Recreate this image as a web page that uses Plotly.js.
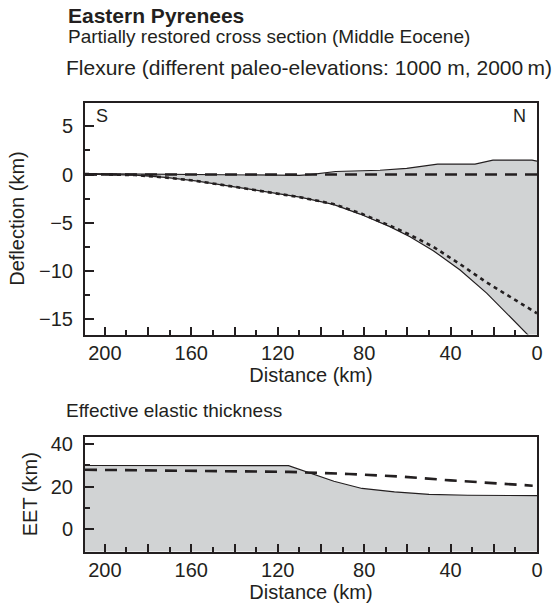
<!DOCTYPE html>
<html>
<head>
<meta charset="utf-8">
<script src="https://cdn.plot.ly/plotly-3.0.1.min.js"></script>
<style>html,body{margin:0;padding:0;background:#fff;}#chart{width:559px;height:608px;}</style>
</head>
<body>
<div id="chart"></div>
<script>
// ---- Data ----
// Flexure panel
const distTopo = [209.2, 180, 150, 118, 110, 105, 93.2, 72.7, 60.3, 46, 28.7, 20.4, 2.3, 0];
const topo     = [0.1, 0.05, 0, -0.05, -0.08, 0, 0.32, 0.45, 0.65, 1.08, 1.08, 1.5, 1.5, 1.4];

const distDefl   = [209.2, 186, 172, 158, 140, 123, 109.7, 94.3, 81.9, 68.1, 58.8, 48, 35.6, 23.3, 11, 4.8, 0];
const deflSolid  = [0.05, -0.05, -0.3, -0.65, -1.27, -1.9, -2.35, -3.1, -4.1, -5.4, -6.45, -7.9, -9.9, -12.3, -15.1, -16.5, -17.6];

const distDot    = [209.2, 186, 172, 158, 140, 123, 109.7, 94.3, 81.9, 68.1, 58.8, 48, 35.6, 23.3, 11, 0];
const deflDotted = [0.05, -0.05, -0.3, -0.65, -1.27, -1.9, -2.35, -3.05, -4.0, -5.3, -6.25, -7.5, -9.3, -11.2, -12.9, -14.4];

const distZero = [209.2, 0];
const zeroLine = [0, 0];

// Effective elastic thickness panel
const distEet   = [209.2, 115, 94, 81, 66, 50, 32, 0];
const eetSolid  = [30, 29.9, 22.6, 19.2, 17.6, 16.4, 16.0, 15.8];
const distEetD  = [209.2, 160, 115, 87, 63, 40, 17, 2];
const eetDashed = [28, 27.5, 27, 26, 24.8, 23, 21.6, 20.5];
const eetFloor  = [-20, -20];

// Tick labels
const xTickVals  = [0, 20, 40, 60, 80, 100, 120, 140, 160, 180, 200];
const xTickText  = ['0', '', '40', '', '80', '', '120', '', '160', '', '200'];

// ---- Styling ----
const INK = '#231f20';
const GRAY = '#d1d3d4';
const FONT = 'Liberation Sans, Arial, Helvetica, sans-serif';

const traces = [
  {x: distDefl, y: deflSolid, xaxis: 'x', yaxis: 'y', mode: 'lines',
   line: {color: INK, width: 1.2}, hoverinfo: 'skip'},
  {x: distTopo, y: topo, xaxis: 'x', yaxis: 'y', mode: 'lines', fill: 'tonexty',
   fillcolor: GRAY, line: {color: INK, width: 1.2}, hoverinfo: 'skip'},
  {x: distDot, y: deflDotted, xaxis: 'x', yaxis: 'y', mode: 'lines',
   line: {color: INK, width: 2.6, dash: '4px,4px'}, hoverinfo: 'skip'},
  {x: distZero, y: zeroLine, xaxis: 'x', yaxis: 'y', mode: 'lines',
   line: {color: INK, width: 2.6, dash: '12px,8px'}, hoverinfo: 'skip'},

  {x: distZero, y: eetFloor, xaxis: 'x2', yaxis: 'y2', mode: 'lines',
   line: {color: 'rgba(0,0,0,0)', width: 0}, hoverinfo: 'skip'},
  {x: distEet, y: eetSolid, xaxis: 'x2', yaxis: 'y2', mode: 'lines', fill: 'tonexty',
   fillcolor: GRAY, line: {color: INK, width: 1.2}, hoverinfo: 'skip'},
  {x: distEetD, y: eetDashed, xaxis: 'x2', yaxis: 'y2', mode: 'lines',
   line: {color: INK, width: 2.6, dash: '12px,8px'}, hoverinfo: 'skip'}
];

const H = 608;
const axBase = {
  showgrid: false, zeroline: false, showline: true, mirror: true,
  linecolor: INK, linewidth: 2, ticks: 'inside', tickcolor: INK, tickwidth: 2,
  tickfont: {family: FONT, size: 20, color: INK}
};

const xCommon = Object.assign({}, axBase, {
  range: [209.2, 0], tickmode: 'array', tickvals: xTickVals, ticktext: xTickText,
  ticklen: 8, ticklabelstandoff: -1,
  minor: {dtick: 10, tick0: 0, ticks: 'inside', ticklen: 5, tickwidth: 2, tickcolor: INK},
  title: {text: 'Distance (km)', font: {family: FONT, size: 20, color: INK}, standoff: 3}
});

const layout = {
  width: 559, height: 608,
  margin: {l: 85, r: 22, t: 0, b: 0},
  paper_bgcolor: '#fff', plot_bgcolor: '#fff',
  showlegend: false,
  font: {family: FONT, color: INK},
  xaxis: Object.assign({}, xCommon, {anchor: 'y', domain: [0, 1]}),
  yaxis: Object.assign({}, axBase, {
    domain: [1 - 334.5 / H, 1 - 102.5 / H], range: [-16.6, 7.48], anchor: 'x',
    dtick: 5, tick0: 0, ticklen: 9, ticklabelstandoff: 6,
    minor: {dtick: 2.5, tick0: 0, ticks: 'inside', ticklen: 5, tickwidth: 2, tickcolor: INK},
    title: {text: 'Deflection (km)', font: {family: FONT, size: 20, color: INK}, standoff: 9}
  }),
  xaxis2: Object.assign({}, xCommon, {anchor: 'y2', domain: [0, 1]}),
  yaxis2: Object.assign({}, axBase, {
    domain: [1 - 551.5 / H, 1 - 437 / H], range: [-10.45, 43.4], anchor: 'x2',
    dtick: 20, tick0: 0, ticklen: 9, ticklabelstandoff: 6,
    minor: {dtick: 10, tick0: 0, ticks: 'inside', ticklen: 5, tickwidth: 2, tickcolor: INK},
    title: {text: 'EET (km)', font: {family: FONT, size: 20, color: INK}, standoff: 8}
  }),
  annotations: [
    {text: '<b>Eastern Pyrenees</b>', xref: 'paper', yref: 'paper', x: (66 - 85) / 452, y: 1 - 15.5 / H,
     xanchor: 'left', yanchor: 'middle', showarrow: false, font: {family: FONT, size: 21, color: INK}},
    {text: 'Partially restored cross section (Middle Eocene)', xref: 'paper', yref: 'paper',
     x: (66 - 85) / 452, y: 1 - 36 / H, xanchor: 'left', yanchor: 'middle', showarrow: false,
     font: {family: FONT, size: 19, color: INK}},
    {text: 'Flexure (different paleo-elevations: 1000 m, 2000\u2009m)', xref: 'paper', yref: 'paper',
     x: (64 - 85) / 452, y: 1 - 68 / H, xanchor: 'left', yanchor: 'middle', showarrow: false,
     font: {family: FONT, size: 21, color: INK}},
    {text: 'Effective elastic thickness', xref: 'paper', yref: 'paper',
     x: (64 - 85) / 452, y: 1 - 410 / H, xanchor: 'left', yanchor: 'middle', showarrow: false,
     font: {family: FONT, size: 19, color: INK}},
    {text: 'S', xref: 'paper', yref: 'paper', x: (94 - 85) / 452, y: 1 - 116 / H,
     xanchor: 'left', yanchor: 'middle', showarrow: false, font: {family: FONT, size: 18, color: INK}},
    {text: 'N', xref: 'paper', yref: 'paper', x: (528 - 85) / 452, y: 1 - 116 / H,
     xanchor: 'right', yanchor: 'middle', showarrow: false, font: {family: FONT, size: 18, color: INK}}
  ]
};

Plotly.newPlot('chart', traces, layout, {displayModeBar: false, staticPlot: true});
</script>
</body>
</html>
